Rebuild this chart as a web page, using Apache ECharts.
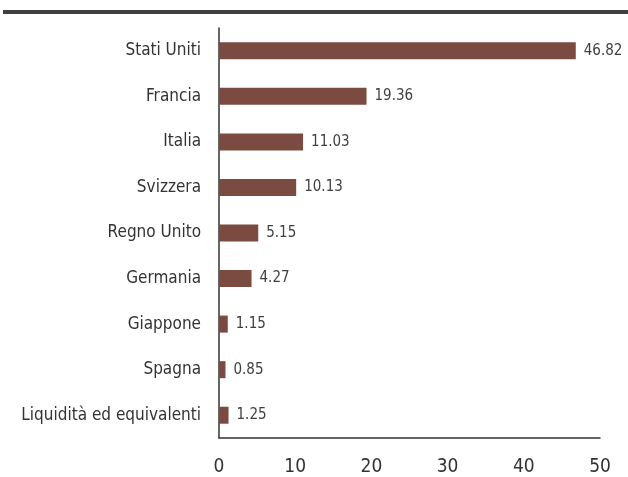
<!DOCTYPE html>
<html><head><meta charset="utf-8">
<script src="https://cdn.jsdelivr.net/npm/echarts@6/dist/echarts.min.js"></script>
<style>html,body{margin:0;padding:0;background:#fff}#c{width:628px;height:477px}</style>
</head><body><div id="c"></div>
<script>
const categories = ["Stati Uniti","Francia","Italia","Svizzera","Regno Unito","Germania","Giappone","Spagna","Liquidità ed equivalenti"];
const values = [46.82,19.36,11.03,10.13,5.15,4.27,1.15,0.85,1.25];
const FONT = "'Liberation Sans Narrow','DejaVu Sans Condensed',sans-serif";
const chart = echarts.init(document.getElementById('c'));
chart.setOption({
  animation:false,
  graphic:[{type:'rect',shape:{x:3,y:10,width:625,height:4},style:{fill:'#404040'}}],
  grid:{left:219,right:28,top:28,bottom:38},
  xAxis:{type:'value',min:0,max:50,interval:10,
    axisLine:{show:true,lineStyle:{color:'#333',width:1.5}},
    axisTick:{show:false},splitLine:{show:false},
    axisLabel:{fontFamily:FONT,fontSize:19,color:'#333',margin:20}},
  yAxis:{type:'category',data:categories,inverse:true,
    axisLine:{show:true,lineStyle:{color:'#333',width:1.5}},
    axisTick:{show:false},
    axisLabel:{fontFamily:FONT,fontSize:17,color:'#333',margin:18}},
  series:[{type:'bar',data:values,barWidth:17,
    itemStyle:{color:'#7B4A40'},
    label:{show:true,position:'right',distance:8,fontFamily:FONT,fontSize:15,color:'#404040',
      formatter:p=>p.value.toFixed(2)}}]
});
</script></body></html>
